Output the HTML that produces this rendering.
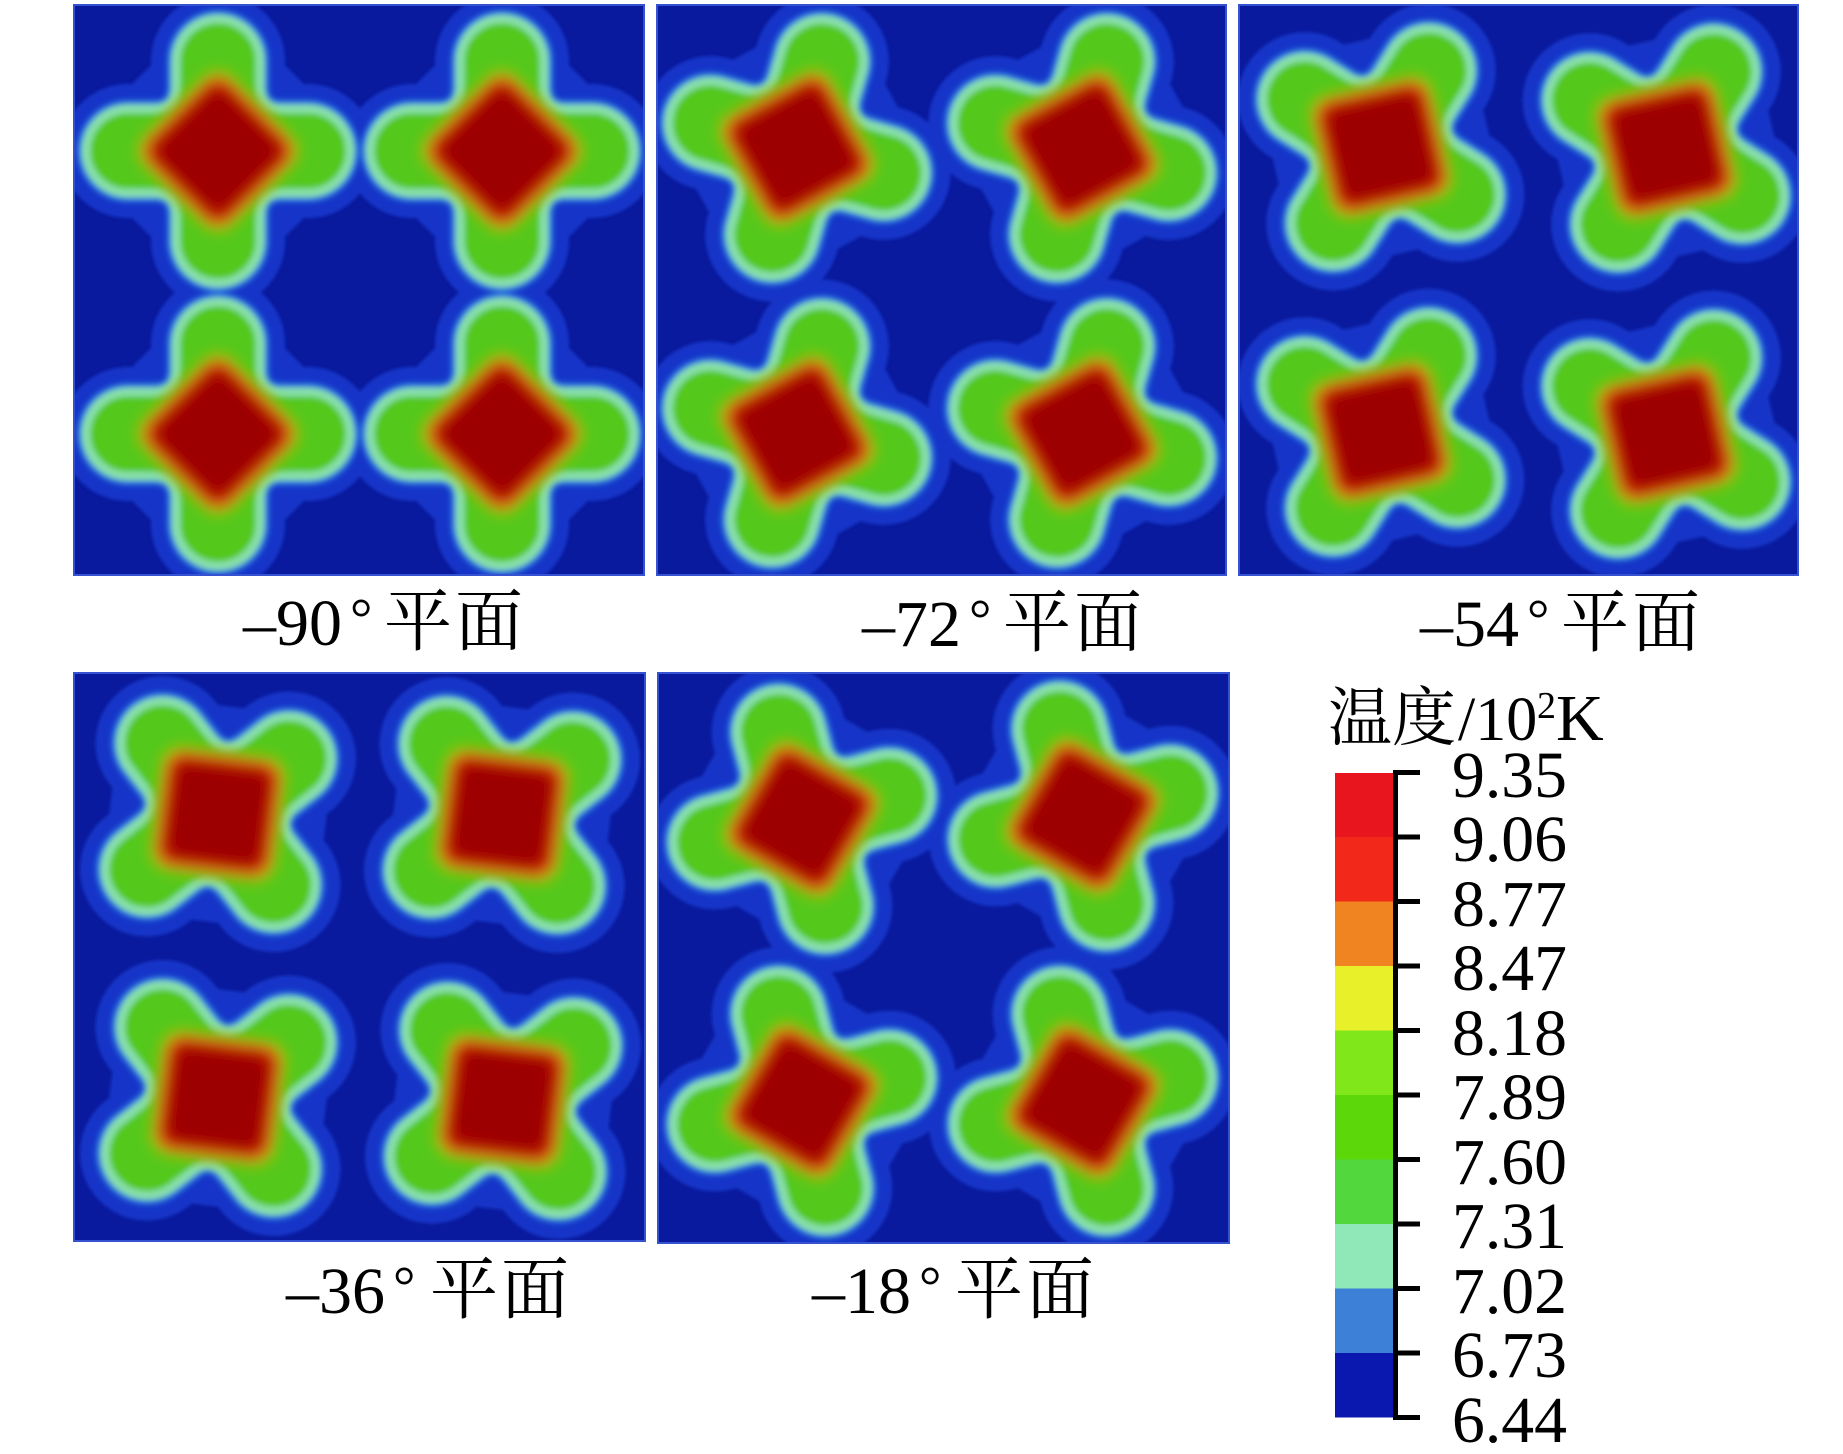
<!DOCTYPE html>
<html>
<head>
<meta charset="utf-8">
<style>
  html,body{margin:0;padding:0;background:#ffffff;}
  svg{display:block;}
  text{font-family:"Liberation Serif","Noto Serif CJK SC",serif;fill:#000;}
  .cjk{font-family:"Liberation Serif","Noto Serif CJK SC","Noto Sans CJK SC",serif;}
</style>
</head>
<body>
<svg width="1843" height="1454" viewBox="0 0 1843 1454" xmlns="http://www.w3.org/2000/svg">
  <defs>
    <path id="P" d="M -42,-90 A 42 42 0 0 1 42,-90 L 42,-64 Q 42,-42 64,-42 L 90,-42 A 42 42 0 0 1 90,42 L 64,42 Q 42,42 42,64 L 42,90 A 42 42 0 0 1 -42,90 L -42,64 Q -42,42 -64,42 L -90,42 A 42 42 0 0 1 -90,-42 L -64,-42 Q -42,-42 -42,-64 Z"/>
    <rect id="C" x="-49" y="-49" width="98" height="98" rx="16" transform="rotate(45)"/>

    <g id="halo">
      <use href="#P" fill="#1636c8" stroke="#1636c8" stroke-width="50" stroke-linejoin="round"/>
      <rect x="-108" y="-108" width="216" height="216" rx="38" transform="rotate(45)" fill="#1636c8"/>
    </g>
    <g id="body">
      <use href="#P" fill="none" stroke="#2a7ee0" stroke-width="18" stroke-linejoin="round"/>
      <use href="#P" fill="#55c81a" stroke="#88e0aa" stroke-width="9" stroke-linejoin="round"/>
    </g>
    <g id="core">
      <use href="#C" fill="#a4c40c" transform="scale(1.3)"/>
      <use href="#C" fill="#d86a08" transform="scale(1.2)"/>
      <use href="#C" fill="#c41808" transform="scale(1.1)"/>
      <use href="#C" fill="#a80800"/>
      <use href="#C" fill="#9c0000" transform="scale(0.85)"/>
    </g>

    <filter id="bh" x="-10%" y="-10%" width="120%" height="120%"><feGaussianBlur stdDeviation="1.5"/></filter>
    <filter id="bb" x="-10%" y="-10%" width="120%" height="120%"><feGaussianBlur stdDeviation="3"/></filter>
    <filter id="bc" x="-10%" y="-10%" width="120%" height="120%"><feGaussianBlur stdDeviation="6.5"/></filter>

    <clipPath id="cp1"><rect x="0" y="0" width="570" height="570"/></clipPath>
    <clipPath id="cp2"><rect x="0" y="0" width="569" height="570"/></clipPath>
    <clipPath id="cp3"><rect x="0" y="0" width="559" height="570"/></clipPath>
    <clipPath id="cp4"><rect x="0" y="0" width="571" height="568"/></clipPath>
    <clipPath id="cp5"><rect x="0" y="0" width="571" height="570"/></clipPath>
  </defs>

  <rect x="0" y="0" width="1843" height="1454" fill="#ffffff"/>

  <!-- Panel 1: -90 -->
  <g transform="translate(74,5)">
    <g clip-path="url(#cp1)">
      <rect x="0" y="0" width="570" height="570" fill="#0a1a9e"/>
      <g filter="url(#bh)">
        <use href="#halo" transform="translate(144,146)"/>
        <use href="#halo" transform="translate(428,146)"/>
        <use href="#halo" transform="translate(144,429)"/>
        <use href="#halo" transform="translate(428,429)"/>
      </g>
      <g filter="url(#bb)">
        <use href="#body" transform="translate(144,146)"/>
        <use href="#body" transform="translate(428,146)"/>
        <use href="#body" transform="translate(144,429)"/>
        <use href="#body" transform="translate(428,429)"/>
      </g>
      <g filter="url(#bc)">
        <use href="#core" transform="translate(144,146)"/>
        <use href="#core" transform="translate(428,146)"/>
        <use href="#core" transform="translate(144,429)"/>
        <use href="#core" transform="translate(428,429)"/>
      </g>
    </g>
    <rect x="0" y="0" width="570" height="570" fill="none" stroke="#3553d0" stroke-width="2"/>
  </g>

  <!-- Panel 2: -72 -->
  <g transform="translate(657,5)">
    <g clip-path="url(#cp2)">
      <rect x="0" y="0" width="569" height="570" fill="#0a1a9e"/>
      <g filter="url(#bh)">
        <use href="#halo" transform="translate(140,143) rotate(16)"/>
        <use href="#halo" transform="translate(425,143) rotate(16)"/>
        <use href="#halo" transform="translate(140,428) rotate(16)"/>
        <use href="#halo" transform="translate(425,428) rotate(16)"/>
      </g>
      <g filter="url(#bb)">
        <use href="#body" transform="translate(140,143) rotate(16)"/>
        <use href="#body" transform="translate(425,143) rotate(16)"/>
        <use href="#body" transform="translate(140,428) rotate(16)"/>
        <use href="#body" transform="translate(425,428) rotate(16)"/>
      </g>
      <g filter="url(#bc)">
        <use href="#core" transform="translate(140,143) rotate(16)"/>
        <use href="#core" transform="translate(425,143) rotate(16)"/>
        <use href="#core" transform="translate(140,428) rotate(16)"/>
        <use href="#core" transform="translate(425,428) rotate(16)"/>
      </g>
    </g>
    <rect x="0" y="0" width="569" height="570" fill="none" stroke="#3553d0" stroke-width="2"/>
  </g>

  <!-- Panel 3: -54 -->
  <g transform="translate(1239,5)">
    <g clip-path="url(#cp3)">
      <rect x="0" y="0" width="559" height="570" fill="#0a1a9e"/>
      <g filter="url(#bh)">
        <use href="#halo" transform="translate(142,142) rotate(32)"/>
        <use href="#halo" transform="translate(427,143) rotate(32)"/>
        <use href="#halo" transform="translate(142,427) rotate(32)"/>
        <use href="#halo" transform="translate(427,429) rotate(32)"/>
      </g>
      <g filter="url(#bb)">
        <use href="#body" transform="translate(142,142) rotate(32)"/>
        <use href="#body" transform="translate(427,143) rotate(32)"/>
        <use href="#body" transform="translate(142,427) rotate(32)"/>
        <use href="#body" transform="translate(427,429) rotate(32)"/>
      </g>
      <g filter="url(#bc)">
        <use href="#core" transform="translate(142,142) rotate(32)"/>
        <use href="#core" transform="translate(427,143) rotate(32)"/>
        <use href="#core" transform="translate(142,427) rotate(32)"/>
        <use href="#core" transform="translate(427,429) rotate(32)"/>
      </g>
    </g>
    <rect x="0" y="0" width="559" height="570" fill="none" stroke="#3553d0" stroke-width="2"/>
  </g>

  <!-- Panel 4: -36 -->
  <g transform="translate(74,673)">
    <g clip-path="url(#cp4)">
      <rect x="0" y="0" width="571" height="568" fill="#0a1a9e"/>
      <g filter="url(#bh)">
        <use href="#halo" transform="translate(144,141) rotate(52)"/>
        <use href="#halo" transform="translate(428,142) rotate(52)"/>
        <use href="#halo" transform="translate(144,425) rotate(52)"/>
        <use href="#halo" transform="translate(429,428) rotate(52)"/>
      </g>
      <g filter="url(#bb)">
        <use href="#body" transform="translate(144,141) rotate(52)"/>
        <use href="#body" transform="translate(428,142) rotate(52)"/>
        <use href="#body" transform="translate(144,425) rotate(52)"/>
        <use href="#body" transform="translate(429,428) rotate(52)"/>
      </g>
      <g filter="url(#bc)">
        <use href="#core" transform="translate(144,141) rotate(52)"/>
        <use href="#core" transform="translate(428,142) rotate(52)"/>
        <use href="#core" transform="translate(144,425) rotate(52)"/>
        <use href="#core" transform="translate(429,428) rotate(52)"/>
      </g>
    </g>
    <rect x="0" y="0" width="571" height="568" fill="none" stroke="#3553d0" stroke-width="2"/>
  </g>

  <!-- Panel 5: -18 -->
  <g transform="translate(658,673)">
    <g clip-path="url(#cp5)">
      <rect x="0" y="0" width="571" height="570" fill="#0a1a9e"/>
      <g filter="url(#bh)">
        <use href="#halo" transform="translate(144,146) rotate(-15)"/>
        <use href="#halo" transform="translate(425,143) rotate(-15)"/>
        <use href="#halo" transform="translate(144,428) rotate(-15)"/>
        <use href="#halo" transform="translate(425,428) rotate(-15)"/>
      </g>
      <g filter="url(#bb)">
        <use href="#body" transform="translate(144,146) rotate(-15)"/>
        <use href="#body" transform="translate(425,143) rotate(-15)"/>
        <use href="#body" transform="translate(144,428) rotate(-15)"/>
        <use href="#body" transform="translate(425,428) rotate(-15)"/>
      </g>
      <g filter="url(#bc)">
        <use href="#core" transform="translate(144,146) rotate(-15)"/>
        <use href="#core" transform="translate(425,143) rotate(-15)"/>
        <use href="#core" transform="translate(144,428) rotate(-15)"/>
        <use href="#core" transform="translate(425,428) rotate(-15)"/>
      </g>
    </g>
    <rect x="0" y="0" width="571" height="570" fill="none" stroke="#3553d0" stroke-width="2"/>
  </g>

  <!-- Panel labels -->
  <g font-size="66">
    <text x="243" y="645">–90</text>
    <text x="350" y="637" font-size="56">°</text>
    <text class="cjk" x="384" y="645" font-size="68">平</text>
    <text class="cjk" x="455" y="645" font-size="68">面</text>

    <text x="862" y="646">–72</text>
    <text x="969" y="638" font-size="56">°</text>
    <text class="cjk" x="1003" y="646" font-size="68">平</text>
    <text class="cjk" x="1074" y="646" font-size="68">面</text>

    <text x="1420" y="646">–54</text>
    <text x="1527" y="638" font-size="56">°</text>
    <text class="cjk" x="1561" y="646" font-size="68">平</text>
    <text class="cjk" x="1632" y="646" font-size="68">面</text>

    <text x="286" y="1313">–36</text>
    <text x="393" y="1305" font-size="56">°</text>
    <text class="cjk" x="430" y="1313" font-size="68">平</text>
    <text class="cjk" x="501" y="1313" font-size="68">面</text>

    <text x="812" y="1313">–18</text>
    <text x="919" y="1305" font-size="56">°</text>
    <text class="cjk" x="955" y="1313" font-size="68">平</text>
    <text class="cjk" x="1026" y="1313" font-size="68">面</text>
  </g>

  <!-- Legend title -->
  <text class="cjk" x="1328" y="740" font-size="64">温度</text>
  <text x="1458" y="740" font-size="62">/10</text>
  <text x="1537" y="718" font-size="38">2</text>
  <text x="1556" y="740" font-size="66">K</text>

  <!-- Colorbar -->
  <g>
    <rect x="1335" y="773" width="58" height="64.5" fill="#e8141e"/>
    <rect x="1335" y="837" width="58" height="64.5" fill="#f2281a"/>
    <rect x="1335" y="901.5" width="58" height="64.5" fill="#f08420"/>
    <rect x="1335" y="966" width="58" height="64.5" fill="#e8f02a"/>
    <rect x="1335" y="1030.5" width="58" height="64.5" fill="#80e81a"/>
    <rect x="1335" y="1095" width="58" height="64.5" fill="#5cd80a"/>
    <rect x="1335" y="1159.5" width="58" height="64.5" fill="#52d83c"/>
    <rect x="1335" y="1224" width="58" height="64.5" fill="#90e8b8"/>
    <rect x="1335" y="1288.5" width="58" height="64.5" fill="#3c80d8"/>
    <rect x="1335" y="1353" width="58" height="64.5" fill="#0a18b0"/>
  </g>
  <g fill="#000">
    <rect x="1393" y="770" width="5" height="650"/>
    <rect x="1393" y="770" width="27" height="5"/>
    <rect x="1393" y="834.5" width="27" height="5"/>
    <rect x="1393" y="899" width="27" height="5"/>
    <rect x="1393" y="963.5" width="27" height="5"/>
    <rect x="1393" y="1028" width="27" height="5"/>
    <rect x="1393" y="1092.5" width="27" height="5"/>
    <rect x="1393" y="1157" width="27" height="5"/>
    <rect x="1393" y="1221.5" width="27" height="5"/>
    <rect x="1393" y="1286" width="27" height="5"/>
    <rect x="1393" y="1350.5" width="27" height="5"/>
    <rect x="1393" y="1415" width="27" height="5"/>
  </g>
  <g font-size="66">
    <text x="1452" y="797" textLength="115" lengthAdjust="spacingAndGlyphs">9.35</text>
    <text x="1452" y="861" textLength="115" lengthAdjust="spacingAndGlyphs">9.06</text>
    <text x="1452" y="926" textLength="115" lengthAdjust="spacingAndGlyphs">8.77</text>
    <text x="1452" y="990" textLength="115" lengthAdjust="spacingAndGlyphs">8.47</text>
    <text x="1452" y="1055" textLength="115" lengthAdjust="spacingAndGlyphs">8.18</text>
    <text x="1452" y="1119" textLength="115" lengthAdjust="spacingAndGlyphs">7.89</text>
    <text x="1452" y="1184" textLength="115" lengthAdjust="spacingAndGlyphs">7.60</text>
    <text x="1452" y="1248" textLength="115" lengthAdjust="spacingAndGlyphs">7.31</text>
    <text x="1452" y="1313" textLength="115" lengthAdjust="spacingAndGlyphs">7.02</text>
    <text x="1452" y="1377" textLength="115" lengthAdjust="spacingAndGlyphs">6.73</text>
    <text x="1452" y="1442" textLength="115" lengthAdjust="spacingAndGlyphs">6.44</text>
  </g>
</svg>
</body>
</html>
